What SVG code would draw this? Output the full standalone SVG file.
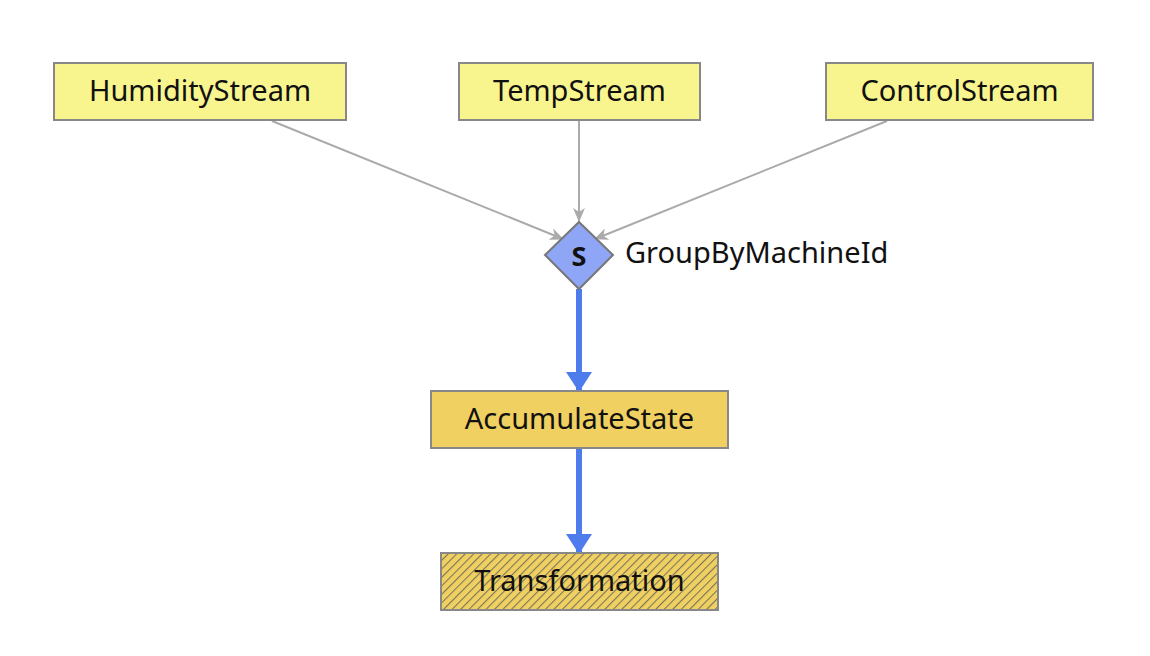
<svg xmlns="http://www.w3.org/2000/svg" width="1150" height="656" viewBox="0 0 1150 656">
<style>
text{font-family:"Noto Sans",Lato,sans-serif;font-size:29px;fill:#111;}
.src{fill:#f8f58f;stroke:#888;stroke-width:2;}
.grey{stroke:#aaa;stroke-width:2;fill:none;}
.blue{stroke:#4f7cec;stroke-width:6;fill:none;}
</style>
<defs>
<marker id="ag" markerWidth="14" markerHeight="12" refX="13" refY="6" orient="auto" markerUnits="userSpaceOnUse">
<path d="M0,0 L14,6 L0,12 L4,6 Z" fill="#aaa"/>
</marker>
<marker id="ab" markerWidth="20" markerHeight="26" refX="19" refY="13" orient="auto" markerUnits="userSpaceOnUse">
<path d="M0,0 L20,13 L0,26 Z" fill="#4f7cec"/>
</marker>
<pattern id="hatch" width="6" height="6" patternUnits="userSpaceOnUse" patternTransform="rotate(45)">
<rect width="6" height="6" fill="#f0d060"/>
<line x1="0" y1="0" x2="0" y2="6" stroke="#7a7560" stroke-width="2.2"/>
</pattern>
</defs>
<g id="connectors">
<line class="grey" x1="272" y1="121" x2="563" y2="239" marker-end="url(#ag)"/>
<line class="grey" x1="579" y1="121" x2="579" y2="221" marker-end="url(#ag)"/>
<line class="grey" x1="887" y1="121" x2="595" y2="239" marker-end="url(#ag)"/>
<line class="blue" x1="579" y1="289" x2="579" y2="391" marker-end="url(#ab)"/>
<line class="blue" x1="579" y1="449" x2="579" y2="553" marker-end="url(#ab)"/>
</g>
<g id="HumidityStream">
<rect class="src" x="54" y="63" width="292" height="57"/>
<text x="200" y="101" text-anchor="middle">HumidityStream</text>
</g>
<g id="TempStream">
<rect class="src" x="459" y="63" width="241" height="57"/>
<text x="579.5" y="101" text-anchor="middle">TempStream</text>
</g>
<g id="ControlStream">
<rect class="src" x="826" y="63" width="267" height="57"/>
<text x="959.5" y="101" text-anchor="middle">ControlStream</text>
</g>
<g id="GroupByMachineId">
<path d="M579,222 L613,255 L579,289 L545,255 Z" fill="#8ea6f5" stroke="#777" stroke-width="2"/>
<text x="579" y="266" text-anchor="middle" style="font-weight:bold;font-size:27px">S</text>
<text x="625" y="263">GroupByMachineId</text>
</g>
<g id="AccumulateState">
<rect x="431" y="391" width="297" height="57" fill="#f0d060" stroke="#888" stroke-width="2"/>
<text x="579.5" y="429" text-anchor="middle">AccumulateState</text>
</g>
<g id="Transformation">
<rect x="441" y="553" width="277" height="57" fill="url(#hatch)" stroke="#888" stroke-width="2"/>
<text x="579.5" y="591" text-anchor="middle">Transformation</text>
</g>
</svg>
